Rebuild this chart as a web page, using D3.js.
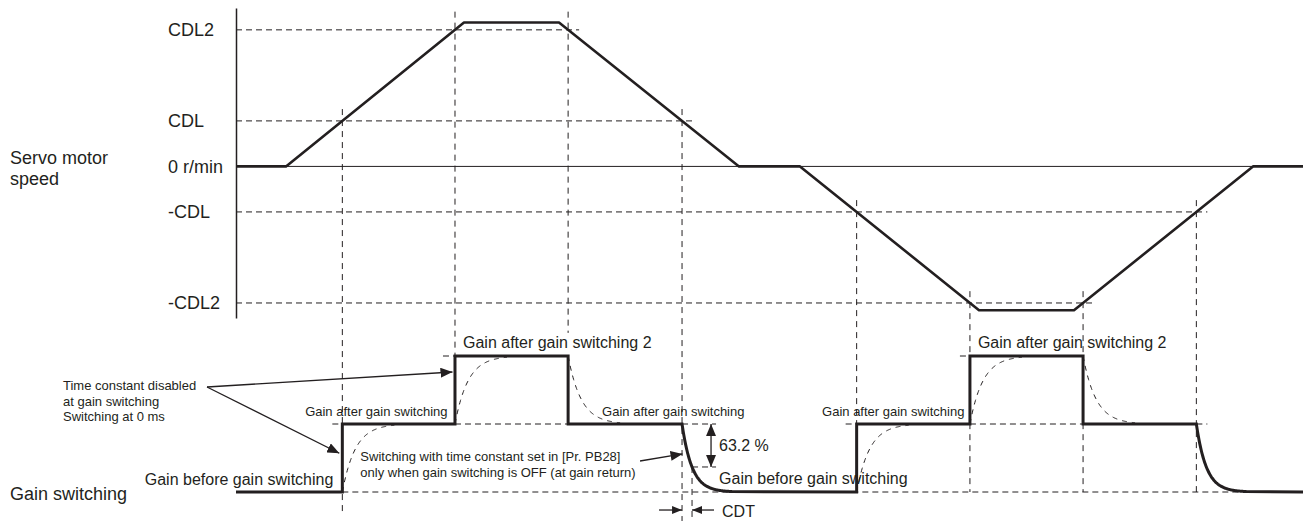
<!DOCTYPE html>
<html>
<head>
<meta charset="utf-8">
<script src="https://cdn.jsdelivr.net/npm/d3@7"></script>
<style>
  body { margin: 0; background: #fff; }
  svg { display: block; font-family: "Liberation Sans", Arial, sans-serif; }
</style>
</head>
<body>
<svg width="1303" height="521"></svg>
<script>
// servo motor speed profile (time in units of the time constant, speed in CDL units)
var speedTime  = [0, 5, 22.8, 32.3, 50.3, 56.4, 74.3, 83.8, 101.7, 106.7];
var speedValue = [0, 0, 3.16, 3.16, 0,    0,    -3.16, -3.16, 0,   0];

// speed axis labels
var speedTicks = [3, 1, 0, -1, -3];
var speedTickLabels = ["CDL2", "CDL", "0 r/min", "-CDL", "-CDL2"];

// switching thresholds, CDL and CDL2
var switchLevels = [1, 3];

// gain levels: before, after, after 2
var gainLevels = [0, 1, 2];
var tau = 1; // CDT

// where each vertical guide stops, in gain units (one per switching event)
var guideBottom = [-0.3, 2, 2.34, -0.45, 1, 0, 0, 0];

var ink = "#231f20";
var svg = d3.select("svg");

var x = d3.scaleLinear().domain([0, 106.7]).range([236, 1303]);
var y = d3.scaleLinear().domain([-3.33, 3.48]).range([318, 8]);
var g = d3.scaleLinear().domain([0, 2]).range([492, 356]);

var speed = speedTime.map(function (t, i) { return {t: t, v: speedValue[i]}; });

function gainOf(v) {
  v = Math.abs(v);
  return v >= switchLevels[1] ? 2 : v >= switchLevels[0] ? 1 : 0;
}

// find the CDL / CDL2 crossings -> gain switching events
var levels = [switchLevels[1], switchLevels[0], -switchLevels[0], -switchLevels[1]];
var events = [];
for (var i = 0; i < speed.length - 1; i++) {
  var a = speed[i], b = speed[i + 1];
  levels.forEach(function (L) {
    if ((a.v - L) * (b.v - L) < 0) {
      var t = a.t + (L - a.v) / (b.v - a.v) * (b.t - a.t);
      var dir = Math.sign(b.v - a.v);
      events.push({t: t, level: L, from: gainOf(L - dir * 1e-6), to: gainOf(L + dir * 1e-6)});
    }
  });
}
events.sort(function (p, q) { return p.t - q.t; });
var ev = events.map(function (e) { return e.t; });

var defs = svg.append("defs");
function marker(id, len, wid) {
  defs.append("marker")
    .attr("id", id)
    .attr("viewBox", "0 0 " + len + " " + wid)
    .attr("refX", len).attr("refY", wid / 2)
    .attr("markerWidth", len).attr("markerHeight", wid)
    .attr("markerUnits", "userSpaceOnUse")
    .attr("orient", "auto-start-reverse")
    .append("path")
    .attr("d", "M0,0L" + len + "," + (wid / 2) + "L0," + wid + "Z")
    .attr("fill", ink);
}
marker("head", 12, 10);
marker("small", 10, 8);

var guides = svg.append("g")
  .attr("fill", "none")
  .attr("stroke", ink)
  .attr("stroke-width", 1)
  .attr("stroke-dasharray", "6,4");

// horizontal speed guides
levels.forEach(function (L) {
  var last = d3.max(events.filter(function (e) { return e.level === L; }), function (e) { return e.t; });
  guides.append("line")
    .attr("x1", x(0)).attr("x2", x(last + 1.1))
    .attr("y1", y(L)).attr("y2", y(L));
});

// vertical guides from the crossings down to the gain chart
events.forEach(function (e, i) {
  guides.append("line")
    .attr("x1", x(e.t)).attr("x2", x(e.t))
    .attr("y1", y(e.level + (e.level === 3 ? 0.4 : 0.26))).attr("y2", g(guideBottom[i]))
    .attr("stroke-dasharray", "6,5");
});
// CDT guide
guides.append("line")
  .attr("x1", x(ev[3] + tau)).attr("x2", x(ev[3] + tau))
  .attr("y1", g(1 - 0.632)).attr("y2", g(-0.45))
  .attr("stroke-dasharray", "6,5");

// horizontal gain guides [start, end, level]
var gainGuides = [
  [ev[0] - 1, ev[0], 1], [ev[1] - 1.2, ev[1], 2], [ev[1], ev[2], 1],
  [ev[3], ev[3] + 3.4, 1], [ev[3] + tau, ev[3] + 3.4, 1 - 0.632],
  [ev[4] - 1.1, ev[4], 1], [ev[5] - 1, ev[5], 2], [ev[5], ev[6], 1],
  [ev[7], ev[7] + 1.1, 1], [ev[0], ev[7] + 4.3, 0]
];
gainGuides.forEach(function (s) {
  guides.append("line")
    .attr("x1", x(s[0])).attr("x2", x(s[1]))
    .attr("y1", g(s[2])).attr("y2", g(s[2]));
});

// dashed time-constant curves where switching is instant
var gline = d3.line().x(function (d) { return x(d.t); }).y(function (d) { return g(d.v); });
var dashTau = 1.3 * tau;
events.filter(function (e) { return e.to !== 0; }).forEach(function (e) {
  var pts = d3.range(0, 4.01 * dashTau, 0.05).map(function (s) {
    return {t: e.t + s, v: e.from + (e.to - e.from) * (1 - Math.exp(-s / dashTau))};
  });
  guides.append("path").attr("d", gline(pts)).attr("stroke-dasharray", "5,5");
});

// speed axis
var axis = svg.append("g")
  .attr("transform", "translate(" + x(0) + ",0)")
  .call(d3.axisLeft(y).tickValues(speedTicks).tickSize(0).tickSizeOuter(0)
    .tickFormat(function (d, i) { return speedTickLabels[i]; }));
axis.select(".domain").attr("stroke", ink).attr("stroke-width", 1.5);
axis.selectAll("text")
  .attr("x", 168 - x(0))
  .attr("text-anchor", "start")
  .attr("font-size", 18)
  .attr("font-family", "Liberation Sans, Arial, sans-serif")
  .attr("fill", ink);

// zero line
svg.append("line")
  .attr("x1", x(0)).attr("x2", x.range()[1])
  .attr("y1", y(0)).attr("y2", y(0))
  .attr("stroke", ink).attr("stroke-width", 1);

// speed trace
svg.append("path")
  .attr("d", d3.line().x(function (d) { return x(d.t); }).y(function (d) { return y(d.v); })(speed))
  .attr("fill", "none").attr("stroke", ink).attr("stroke-width", 2.6)
  .attr("stroke-linejoin", "round");

// gain trace
var gainPts = [{t: 0, v: gainLevels[0]}];
events.forEach(function (e) {
  gainPts.push({t: e.t, v: e.from});
  if (e.to === 0) {
    d3.range(0, 5.01 * tau, 0.05).forEach(function (s) {
      gainPts.push({t: e.t + s, v: e.from * Math.exp(-s / tau)});
    });
  } else {
    gainPts.push({t: e.t, v: e.to});
  }
});
gainPts.push({t: x.domain()[1], v: gainLevels[0]});
svg.append("path")
  .attr("d", gline(gainPts))
  .attr("fill", "none").attr("stroke", ink).attr("stroke-width", 3);

// arrows
var arrows = svg.append("g").attr("stroke", ink).attr("stroke-width", 1.3);
function arrow(t1, v1, t2, v2, id, both) {
  var l = arrows.append("line")
    .attr("x1", x(t1)).attr("y1", g(v1))
    .attr("x2", x(t2)).attr("y2", g(v2))
    .attr("marker-end", "url(#" + id + ")");
  if (both) l.attr("marker-start", "url(#" + id + ")");
}
arrow(-2.9, 1.544, ev[1] - 0.25, 1.765, "head");
arrow(-2.9, 1.544, ev[0] - 0.3, 0.57, "head");
arrow(ev[3] - 4.2, 0.456, ev[3] + 0.05, 0.56, "head");
arrow(ev[3] + 2.9, 1, ev[3] + 2.9, 1 - 0.632, "head", true);
arrow(ev[3] - 2.3, -0.265, ev[3], -0.265, "small");
arrow(ev[3] + tau + 2.2, -0.265, ev[3] + tau, -0.265, "small");

// text
var text = svg.append("g").attr("fill", ink);
function label(px, py, str, size, anchor) {
  return text.append("text")
    .attr("x", px).attr("y", py)
    .attr("font-size", size)
    .attr("text-anchor", anchor || "start")
    .text(str);
}
function lines(px, py, arr, size, lh) {
  arr.forEach(function (s, i) { label(px, py + i * lh, s, size); });
}

lines(10, 163.5, ["Servo motor", "speed"], 18, 21.5);
label(10, 500, "Gain switching", 18);

label(x(ev[0] - 0.9), g(0.1), "Gain before gain switching", 16, "end");
label(x(ev[3] + 3.7), g(0.115), "Gain before gain switching", 16);

label(x(ev[1] - 0.75), g(1.118), "Gain after gain switching", 13, "end");
label(x(ev[2] + 3.4), g(1.118), "Gain after gain switching", 13);
label(x(ev[5] - 0.55), g(1.118), "Gain after gain switching", 13, "end");

label(x(ev[1] + 0.8), g(2.118), "Gain after gain switching 2", 16);
label(x(ev[5] + 0.8), g(2.118), "Gain after gain switching 2", 16);

lines(x(-17.3), g(1.5), ["Time constant disabled", "at gain switching", "Switching at 0 ms"], 13, 15.5);
lines(x(ev[0] + 1.8), g(0.46), ["Switching with time constant set in [Pr. PB28]",
  "only when gain switching is OFF (at gain return)"], 13, 16);

label(x(ev[3] + 3.7), g(0.607), "63.2 %", 16);
label(x(ev[3] + 4.0), g(-0.365), "CDT", 16);
</script>
</body>
</html>
